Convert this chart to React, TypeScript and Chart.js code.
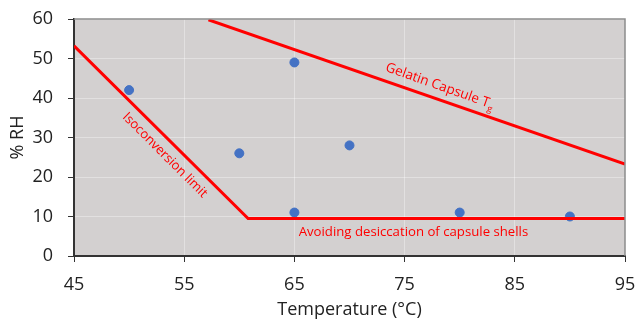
import React, { useEffect, useRef } from "react";
import { Chart, registerables } from "chart.js";

Chart.register(...registerables);

const pointsX = [50, 60, 65, 65, 70, 80, 90];
const pointsY = [42, 26, 49, 11, 28, 11, 10];

const isoX = [45, 60.8, 95];
const isoY = [53.2, 9.5, 9.5];

const tgX = [57.2, 95];
const tgY = [59.8, 23.3];

const xTicks = [45, 55, 65, 75, 85, 95];
const yTicks = [0, 10, 20, 30, 40, 50, 60];

const FONT = "'Open Sans', 'Noto Sans', sans-serif";

const annotationPlugin = {
  id: "annots",
  beforeDraw(chart: any) {
    const { ctx, chartArea } = chart;
    ctx.save();
    ctx.fillStyle = "#d3d0d0";
    ctx.fillRect(chartArea.left, chartArea.top, chartArea.right - chartArea.left, chartArea.bottom - chartArea.top);
    ctx.restore();
  },
  afterDatasetsDraw(chart: any) {
    const { ctx, chartArea, scales } = chart;
    const xs = scales.x;
    const ys = scales.y;
    ctx.save();
    ctx.strokeStyle = "#8c8c8c";
    ctx.lineWidth = 1.5;
    ctx.beginPath();
    ctx.moveTo(chartArea.left, chartArea.top);
    ctx.lineTo(chartArea.right, chartArea.top);
    ctx.lineTo(chartArea.right, chartArea.bottom);
    ctx.stroke();

    ctx.fillStyle = "#ff0000";
    ctx.textAlign = "center";
    ctx.textBaseline = "middle";

    // Isoconversion limit
    ctx.save();
    ctx.translate(xs.getPixelForValue(53.25), ys.getPixelForValue(25.5));
    ctx.rotate((45 * Math.PI) / 180);
    ctx.font = `13px ${FONT}`;
    ctx.fillText("Isoconversion limit", 0, 0);
    ctx.restore();

    // Gelatin Capsule Tg
    ctx.save();
    ctx.translate(xs.getPixelForValue(78.2), ys.getPixelForValue(43.0));
    ctx.rotate((19.5 * Math.PI) / 180);
    ctx.font = `13.5px ${FONT}`;
    const main = "Gelatin Capsule T";
    const w1 = ctx.measureText(main).width;
    ctx.font = `9px ${FONT}`;
    const w2 = ctx.measureText("g").width;
    const total = w1 + w2;
    ctx.textAlign = "left";
    ctx.font = `13.5px ${FONT}`;
    ctx.fillText(main, -total / 2, 0);
    ctx.font = `9px ${FONT}`;
    ctx.fillText("g", -total / 2 + w1, 5);
    ctx.restore();

    // Avoiding desiccation
    ctx.font = `13.2px ${FONT}`;
    ctx.textAlign = "center";
    ctx.fillText("Avoiding desiccation of capsule shells", xs.getPixelForValue(75.8), ys.getPixelForValue(6.1));
    ctx.restore();
  },
};

export default function App() {
  const ref = useRef<HTMLCanvasElement>(null);
  useEffect(() => {
    document.body.style.margin = "0";
    const chart = new Chart(ref.current!, {
      type: "scatter",
      data: {
        datasets: [
          {
            label: "Isoconversion",
            data: isoX.map((x, i) => ({ x, y: isoY[i] })),
            showLine: true,
            borderColor: "#ff0000",
            borderWidth: 3,
            pointRadius: 0,
            fill: false,
          } as any,
          {
            label: "Tg",
            data: tgX.map((x, i) => ({ x, y: tgY[i] })),
            showLine: true,
            borderColor: "#ff0000",
            borderWidth: 3,
            pointRadius: 0,
            fill: false,
          },
          {
            label: "Data",
            data: pointsX.map((x, i) => ({ x, y: pointsY[i] })),
            backgroundColor: "#4472c4",
            borderColor: "#4472c4",
            pointRadius: 4.5,
          },
        ],
      },
      options: {
        animation: false,
        responsive: false,
        layout: { padding: { top: 19, right: 12, left: 0, bottom: 0 } },
        plugins: { legend: { display: false }, tooltip: { enabled: false } },
        scales: {
          x: {
            min: 45,
            max: 95,
            afterBuildTicks: (s: any) => {
              s.ticks = xTicks.map((v) => ({ value: v }));
            },
            afterFit: (s: any) => {
              s.height = 66;
              s.paddingLeft = 0;
              s.paddingRight = 0;
            },
            grid: { color: "rgba(255,255,255,0.35)", tickColor: "#333", tickLength: 6, lineWidth: 1 },
            border: { color: "#333", width: 2 },
            ticks: { color: "#222", font: { size: 18, family: FONT }, padding: 12, maxRotation: 0, autoSkip: false },
            title: { display: true, text: "Temperature (°C)", color: "#222", font: { size: 18, family: FONT }, padding: { top: 0, bottom: 1 } },
          },
          y: {
            min: 0,
            max: 60,
            afterBuildTicks: (s: any) => {
              s.ticks = yTicks.map((v) => ({ value: v }));
            },
            afterFit: (s: any) => {
              s.width = 74;
              s.paddingTop = 0;
              s.paddingBottom = 0;
            },
            grid: { color: "rgba(255,255,255,0.35)", tickColor: "#333", tickLength: 6, lineWidth: 1 },
            border: { color: "#333", width: 2 },
            ticks: { color: "#222", font: { size: 18, family: FONT }, padding: 15, autoSkip: false },
            title: { display: true, text: "% RH", color: "#222", font: { size: 18, family: FONT }, padding: { top: 7, bottom: 0 } },
          },
        },
      },
      plugins: [annotationPlugin],
    });
    return () => chart.destroy();
  }, []);
  return (
    <div style={{ width: 637, height: 322, background: "#fff" }}>
      <canvas ref={ref} width={637} height={322} />
    </div>
  );
}
